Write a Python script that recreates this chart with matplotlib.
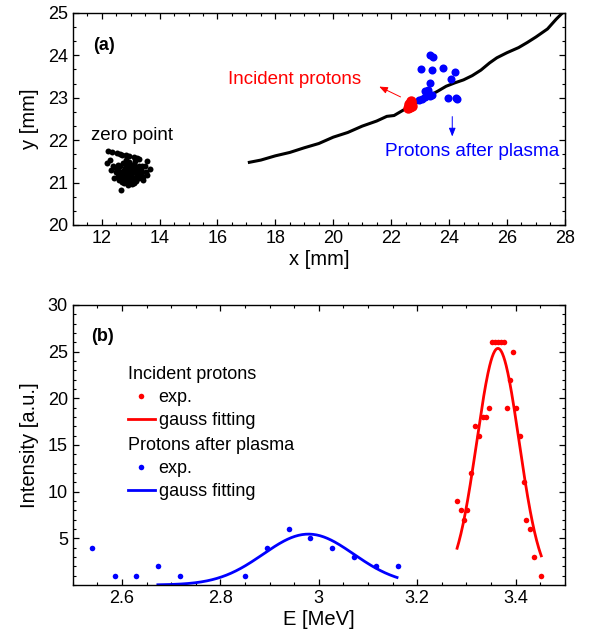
import numpy as np
import matplotlib
matplotlib.use('Agg')
import matplotlib.pyplot as plt
from matplotlib.ticker import MultipleLocator
from matplotlib.lines import Line2D

plt.rcParams['font.family'] = ['Liberation Sans', 'DejaVu Sans']

# ---- panel (a): positions on detector [mm]
track_x = [17.05, 17.5, 18.0, 18.5, 19.0, 19.5, 20.0, 20.5, 21.0, 21.5, 21.85, 22.1,
           22.4, 22.7, 23.0, 23.3, 23.6, 23.9, 24.2, 24.5, 24.8, 25.1, 25.4, 25.65,
           26.0, 26.4, 26.7, 27.0, 27.4, 27.7, 27.95]
track_y = [21.47, 21.53, 21.63, 21.71, 21.82, 21.92, 22.07, 22.18, 22.33, 22.45, 22.56, 22.58,
           22.70, 22.81, 22.92, 23.04, 23.15, 23.27, 23.35, 23.42, 23.52, 23.65, 23.82, 23.94,
           24.06, 24.18, 24.30, 24.43, 24.62, 24.85, 25.02]

zero_x = [12.23, 12.37, 12.52, 12.62, 12.70, 12.84, 12.96, 13.11, 13.22, 13.30,
          12.17, 12.31, 12.44, 12.40, 12.30, 13.57, 13.66, 13.57, 13.48, 13.52, 13.42,
          12.68,
          12.55, 12.63, 12.72, 12.80, 12.88, 12.96, 13.04, 13.12, 13.20, 13.28, 13.36,
          12.50, 12.58, 12.66, 12.75, 12.83, 12.91, 12.99, 13.07, 13.15, 13.23, 13.31, 13.40,
          12.56, 12.64, 12.72, 12.80, 12.88, 12.96, 13.04, 13.12, 13.20, 13.28,
          12.70, 12.78, 12.86, 12.94, 13.02, 13.10, 13.18, 12.90, 13.05, 12.76, 13.00,
          12.60, 13.38, 12.85, 13.15, 12.95, 13.25, 12.48, 13.44]
zero_y = [21.74, 21.71, 21.69, 21.67, 21.66, 21.65, 21.63, 21.61, 21.58, 21.55,
          21.45, 21.29, 21.10, 21.38, 21.52, 21.51, 21.33, 21.18, 21.40, 21.26, 21.12,
          20.82,
          21.42, 21.38, 21.45, 21.35, 21.42, 21.48, 21.38, 21.44, 21.36, 21.40, 21.32,
          21.26, 21.30, 21.22, 21.28, 21.20, 21.27, 21.22, 21.30, 21.24, 21.28, 21.22, 21.25,
          21.15, 21.10, 21.16, 21.08, 21.14, 21.08, 21.12, 21.06, 21.14, 21.10,
          21.02, 21.00, 21.04, 20.98, 21.02, 20.99, 21.04, 20.95, 20.96, 21.18, 21.17,
          21.05, 21.40, 21.52, 21.50, 21.33, 21.18, 21.35, 21.05]

after_x = [23.34, 23.43, 23.02, 23.42, 23.80, 24.20, 24.07, 23.34, 23.16, 23.28, 23.23,
           22.97, 23.07, 23.18, 23.33, 23.40, 23.95, 24.27, 24.25]
after_y = [24.01, 23.97, 23.67, 23.65, 23.71, 23.60, 23.45, 23.35, 23.16, 23.17, 23.10,
           22.95, 22.98, 23.02, 23.03, 23.06, 23.00, 22.97, 23.00]

incident_x = [22.58, 22.62, 22.68, 22.72, 22.65, 22.70, 22.60, 22.66]
incident_y = [22.75, 22.85, 22.92, 22.80, 22.78, 22.88, 22.80, 22.84]

arrow_red = [(22.41, 22.99), (21.50, 23.29)]   # tail, head
arrow_blue = [(24.11, 22.62), (24.11, 22.02)]

# ---- panel (b): energy spectra
after_E = [2.540, 2.586, 2.629, 2.673, 2.718, 2.851, 2.895, 2.939, 2.983, 3.027, 3.071, 3.116, 3.161]
after_I = [4, 1, 1, 2, 1, 1, 4, 6, 5, 4, 3, 2, 2]

inc_E = [3.351, 3.358, 3.365, 3.370, 3.376, 3.395, 3.388, 3.346, 3.382, 3.401, 3.333, 3.340,
         3.317, 3.325, 3.409, 3.310, 3.416, 3.281, 3.289, 3.302, 3.295, 3.422, 3.430, 3.437, 3.452]
inc_I = [26, 26, 26, 26, 26, 25, 22, 19, 19, 19, 18, 18,
         17, 16, 16, 12, 11, 9, 8, 8, 7, 7, 6, 3, 1]

# gauss fit parameters: amplitude, centre, sigma, E range
fit_after = (5.45, 2.979, 0.092, 2.673, 3.159)
fit_inc = (25.35, 3.364, 0.043, 3.281, 3.452)


def gauss_curve(p):
    a, mu, s, e0, e1 = p
    e = np.linspace(e0, e1, 200)
    return e, a * np.exp(-(e - mu) ** 2 / (2 * s ** 2))


def style_axes(ax):
    ax.tick_params(which='both', direction='in', top=True, right=True, labelsize=13, colors='black')
    ax.tick_params(which='major', length=4, width=0.9)
    ax.tick_params(which='minor', length=2.2, width=0.8)
    for sp in ax.spines.values():
        sp.set_linewidth(1.0)


fig = plt.figure(figsize=(5.98, 6.41), dpi=100)
ax1 = fig.add_axes([0.1216, 0.649, 0.823, 0.331])
ax2 = fig.add_axes([0.1216, 0.0874, 0.823, 0.4368])

# (a)
ax1.plot(track_x, track_y, color='black', lw=2.2, solid_capstyle='butt')
ax1.plot(zero_x, zero_y, 'o', color='black', ms=4.3, mec='none')
ax1.plot(after_x, after_y, 'o', color='blue', ms=5.8, mec='none')
ax1.plot(incident_x, incident_y, 'o', color='red', ms=7.5, mec='none')
ax1.annotate('', xy=arrow_red[1], xytext=arrow_red[0],
             arrowprops=dict(arrowstyle='-|>,head_length=0.5,head_width=0.2', color='red', lw=0.7))
ax1.annotate('', xy=arrow_blue[1], xytext=arrow_blue[0],
             arrowprops=dict(arrowstyle='-|>,head_length=0.5,head_width=0.2', color='blue', lw=0.7))
ax1.text(18.65, 23.44, 'Incident protons', color='red', fontsize=13.5, ha='center', va='center')
ax1.text(24.78, 21.73, 'Protons after plasma', color='blue', fontsize=13.7, ha='center', va='center')
ax1.text(13.05, 22.12, 'zero point', color='black', fontsize=13.5, ha='center', va='center')
ax1.text(11.7, 24.24, '(a)', fontsize=13, fontweight='bold', ha='left', va='center')
ax1.set_xlim(11, 28)
ax1.set_ylim(20, 25)
ax1.xaxis.set_major_locator(MultipleLocator(2))
ax1.xaxis.set_minor_locator(MultipleLocator(0.5))
ax1.yaxis.set_major_locator(MultipleLocator(1))
ax1.yaxis.set_minor_locator(MultipleLocator(1 / 3))
ax1.set_xlabel('x [mm]', fontsize=14.5, labelpad=2)
ax1.set_ylabel('y [mm]', fontsize=14.5, labelpad=6)
style_axes(ax1)

# (b)
ax2.plot(inc_E, inc_I, 'o', color='red', ms=4, mec='none')
e, g = gauss_curve(fit_inc)
ax2.plot(e, g, color='red', lw=2)
ax2.plot(after_E, after_I, 'o', color='blue', ms=4, mec='none')
e, g = gauss_curve(fit_after)
ax2.plot(e, g, color='blue', lw=2)
ax2.text(2.538, 26.6, '(b)', fontsize=13, fontweight='bold', ha='left', va='center')
ax2.set_xlim(2.5, 3.5)
ax2.set_ylim(0, 30)
ax2.set_yticks([5, 10, 15, 20, 25, 30])
ax2.xaxis.set_minor_locator(MultipleLocator(0.05))
ax2.yaxis.set_minor_locator(MultipleLocator(1))
ax2.set_xticks([2.6, 2.8, 3.0, 3.2, 3.4])
ax2.set_xticklabels(['2.6', '2.8', '3', '3.2', '3.4'])
ax2.set_xlabel('E [MeV]', fontsize=14.5, labelpad=2)
ax2.set_ylabel('Intensity [a.u.]', fontsize=14.5, labelpad=6)
style_axes(ax2)

leg_kw = dict(frameon=False, fontsize=13, title_fontsize=13, loc='upper left', borderpad=0,
              handlelength=1.5, handletextpad=0.2, labelspacing=0.32, alignment='left',
              borderaxespad=0)
h_inc = [Line2D([], [], ls='none', marker='o', color='red', ms=4, mec='none'),
         Line2D([], [], color='red', lw=2)]
h_aft = [Line2D([], [], ls='none', marker='o', color='blue', ms=4, mec='none'),
         Line2D([], [], color='blue', lw=2)]
leg1 = ax2.legend(h_inc, ['exp.', 'gauss fitting'], title='Incident protons',
                  bbox_to_anchor=(0.112, 0.781), **leg_kw)
ax2.add_artist(leg1)
ax2.legend(h_aft, ['exp.', 'gauss fitting'], title='Protons after plasma',
           bbox_to_anchor=(0.112, 0.527), **leg_kw)

fig.savefig('out.png', dpi=100)
